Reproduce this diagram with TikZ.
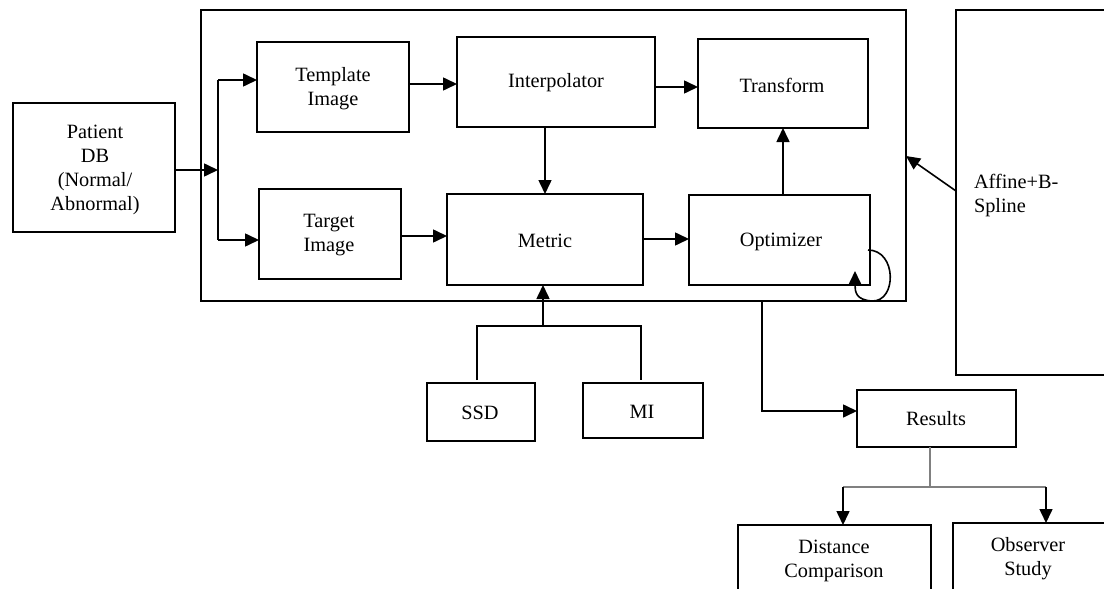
\documentclass[tikz,border=0pt]{standalone}
\usepackage{fontspec}
\setmainfont{Liberation Serif}
\usetikzlibrary{arrows.meta}
\tikzset{
  box/.style={draw, line width=2pt, inner sep=0pt, outer sep=0pt, align=center, font=\fontsize{20.3}{24}\selectfont},
  txt/.style={inner sep=0pt, outer sep=0pt, font=\fontsize{20.3}{24}\selectfont},
  conn/.style={line width=1.6pt, -{Triangle[length=14pt,width=13pt]}},
  plain/.style={line width=1.6pt},
}
\begin{document}
\begin{tikzpicture}[x=1pt,y=-1pt]
\useasboundingbox (0,0) rectangle (1104,589);
% frame
\node[box, minimum width=705, minimum height=291] (frame) at (553.5,155.5) {};
% boxes
\node[box, minimum width=162, minimum height=129] (patient) at (94,167.5) {};
\node[txt, align=center] (patienttxt) at (95,170) {Patient\\DB\\(Normal/\\Abnormal)};
\node[box, minimum width=152, minimum height=90] (template) at (333,87) {};
\node[txt, align=center] (templatetxt) at (333,89) {Template\\Image};
\node[box, minimum width=198, minimum height=90] (interp) at (556,82) {};
\node[txt] (interptxt) at (556,83) {Interpolator};
\node[box, minimum width=170, minimum height=89] (transform) at (783,83.5) {};
\node[txt] (transformtxt) at (782,85) {Transform};
\node[box, minimum width=142, minimum height=90] (target) at (330,234) {};
\node[txt, align=center] (targettxt) at (329,235) {Target\\Image};
\node[box, minimum width=196, minimum height=91] (metric) at (545,239.5) {};
\node[txt] (metrictxt) at (545,241) {Metric};
\node[box, minimum width=181, minimum height=90] (optim) at (779.5,240) {};
\node[txt] (optimtxt) at (781,242) {Optimizer};
\node[box, minimum width=160, minimum height=365] (affine) at (1036,192.5) {};
\node[txt, anchor=west, align=left] (affinetxt) at (974,196) {Affine+B-\\Spline};
\node[box, minimum width=108, minimum height=58] (ssd) at (481,412) {};
\node[txt] (ssdtxt) at (480,413) {SSD};
\node[box, minimum width=120, minimum height=55] (mi) at (643,410.5) {};
\node[txt] (mitxt) at (642,412) {MI};
\node[box, minimum width=159, minimum height=57] (results) at (936.5,418.5) {};
\node[txt] (resultstxt) at (936,419) {Results};
\node[box, minimum width=193, minimum height=80] (dist) at (834.5,565) {};
\node[txt, align=center] (disttxt) at (834,561) {Distance\\Comparison};
\node[box, minimum width=160, minimum height=80] (obs) at (1033,563) {};
\node[txt, align=center] (obstxt) at (1028,559) {Observer\\Study};
% coordinates
\coordinate (split) at (218,170);
\coordinate (ssdtop) at (477,380);
\coordinate (mitop) at (641,380);
\coordinate (smjoin) at (543,326);
\coordinate (rjoin) at (930,487);
\coordinate (optout) at (762,301);
\coordinate (lpstart) at (868,250);
\coordinate (lpend) at (855,271);
% connectors
\draw[conn] (patient.east |- split) -- (split);
\draw[plain] (218,80) -- (218,240);
\draw[conn] (218,80) -- (template.west |- 0,80);
\draw[conn] (218,240) -- (target.west |- 0,240);
\draw[conn] (template.east |- 0,84) -- (interp.west |- 0,84);
\draw[conn] (interp.east |- 0,87) -- (transform.west |- 0,87);
\draw[conn] (interp.south -| 545,0) -- (metric.north -| 545,0);
\draw[conn] (target.east |- 0,236) -- (metric.west |- 0,236);
\draw[conn] (metric.east |- 0,239) -- (optim.west |- 0,239);
\draw[conn] (optim.north -| 783,0) -- (transform.south -| 783,0);
\draw[conn] (lpstart) .. controls (897,250) and (897,302) .. (872,301) .. controls (856,300) and (855,292) .. (lpend);
\draw[conn] (affine.west |- 0,191) -- (frame.east |- 0,156);
% SSD / MI
\draw[plain] (ssdtop) -- (ssdtop |- smjoin) -- (mitop |- smjoin) -- (mitop);
\draw[conn] (smjoin) -- (metric.south -| smjoin);
% results
\draw[conn] (optout) -- (762,411) -- (results.west |- 0,411);
\draw[line width=1.6pt, gray] (results.south -| rjoin) -- (rjoin);
\draw[line width=1.6pt, gray] (843,487) -- (1046,487);
\draw[conn] (843,487) -- (dist.north -| 843,0);
\draw[conn] (1046,487) -- (obs.north -| 1046,0);
\end{tikzpicture}
\end{document}
